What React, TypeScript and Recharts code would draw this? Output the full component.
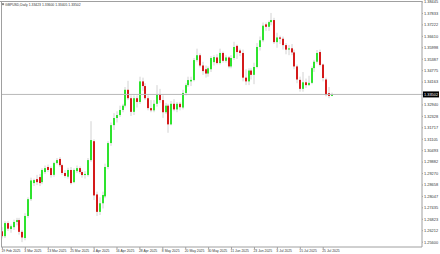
import React from 'react';
import { ComposedChart, Bar, XAxis, YAxis, ReferenceLine } from 'recharts';

// GBPUSD daily candles, 19 Feb 2025 .. 30 Jul 2025 (one entry per trading day)
const opens = [
  1.2618, 1.2592, 1.2662, 1.2630, 1.2640, 1.2668, 1.2678, 1.2615, 1.2582, 1.2700,
  1.2790, 1.2876, 1.2897, 1.2908, 1.2881, 1.2935, 1.2962, 1.2956, 1.2920, 1.2983,
  1.3005, 1.2972, 1.2930, 1.2910, 1.2946, 1.2881, 1.2940, 1.2956, 1.2935, 1.2919,
  1.2919, 1.2999, 1.3100, 1.2815, 1.2722, 1.2768, 1.2805, 1.2962, 1.3090, 1.3186,
  1.3224, 1.3240, 1.3267, 1.3290, 1.3375, 1.3330, 1.3257, 1.3330, 1.3310, 1.3420,
  1.3395, 1.3330, 1.3277, 1.3265, 1.3300, 1.3350, 1.3320, 1.3255, 1.3290, 1.3190,
  1.3300, 1.3270, 1.3300, 1.3280, 1.3358, 1.3400, 1.3420, 1.3427, 1.3534, 1.3560,
  1.3505, 1.3485, 1.3462, 1.3485, 1.3523, 1.3548, 1.3518, 1.3572, 1.3530, 1.3548,
  1.3500, 1.3545, 1.3610, 1.3585, 1.3572, 1.3440, 1.3420, 1.3478, 1.3455, 1.3497,
  1.3604, 1.3640, 1.3725, 1.3712, 1.3737, 1.3748, 1.3630, 1.3655, 1.3648, 1.3614,
  1.3590, 1.3597, 1.3575, 1.3500, 1.3428, 1.3380, 1.3415, 1.3400, 1.3412, 1.3491,
  1.3525, 1.3577, 1.3510, 1.3430, 1.3357, 1.33423,
];
const highs = [
  1.2640, 1.2672, 1.2672, 1.2655, 1.2680, 1.2690, 1.2690, 1.2625, 1.2715, 1.2800,
  1.2905, 1.2900, 1.2920, 1.2925, 1.2955, 1.2970, 1.2975, 1.2965, 1.2990, 1.3010,
  1.3015, 1.2980, 1.2945, 1.2958, 1.2962, 1.2955, 1.2970, 1.2965, 1.2945, 1.2940,
  1.3010, 1.3207, 1.3110, 1.2830, 1.2800, 1.2830, 1.2980, 1.3100, 1.3200, 1.3250,
  1.3260, 1.3290, 1.3300, 1.3390, 1.3423, 1.3345, 1.3345, 1.3345, 1.3445, 1.3440,
  1.3410, 1.3345, 1.3320, 1.3320, 1.3400, 1.3380, 1.3345, 1.3305, 1.3300, 1.3315,
  1.3325, 1.3310, 1.3310, 1.3375, 1.3410, 1.3445, 1.3445, 1.3545, 1.3595, 1.3570,
  1.3525, 1.3505, 1.3500, 1.3555, 1.3560, 1.3565, 1.3595, 1.3580, 1.3560, 1.3555,
  1.3560, 1.3632, 1.3617, 1.3595, 1.3590, 1.3485, 1.3490, 1.3490, 1.3520, 1.3625,
  1.3660, 1.3735, 1.3735, 1.3745, 1.3786, 1.3760, 1.3680, 1.3665, 1.3660, 1.3625,
  1.3615, 1.3620, 1.3590, 1.3510, 1.3445, 1.3470, 1.3435, 1.3450, 1.3500, 1.3535,
  1.3588, 1.3590, 1.3515, 1.3440, 1.3390, 1.33600,
];
const lows = [
  1.2580, 1.2582, 1.2620, 1.2610, 1.2625, 1.2650, 1.2600, 1.2560, 1.2570, 1.2690,
  1.2780, 1.2860, 1.2865, 1.2860, 1.2870, 1.2925, 1.2935, 1.2905, 1.2910, 1.2975,
  1.2962, 1.2920, 1.2905, 1.2900, 1.2868, 1.2875, 1.2930, 1.2925, 1.2905, 1.2900,
  1.2910, 1.2990, 1.2785, 1.2700, 1.2705, 1.2740, 1.2795, 1.2950, 1.3075, 1.3160,
  1.3200, 1.3230, 1.3255, 1.3280, 1.3320, 1.3235, 1.3240, 1.3280, 1.3300, 1.3370,
  1.3320, 1.3265, 1.3255, 1.3255, 1.3285, 1.3305, 1.3225, 1.3245, 1.3145, 1.3185,
  1.3260, 1.3255, 1.3265, 1.3270, 1.3345, 1.3390, 1.3395, 1.3420, 1.3525, 1.3495,
  1.3455, 1.3440, 1.3445, 1.3470, 1.3505, 1.3510, 1.3510, 1.3520, 1.3520, 1.3490,
  1.3490, 1.3535, 1.3540, 1.3555, 1.3420, 1.3400, 1.3400, 1.3430, 1.3405, 1.3490,
  1.3585, 1.3630, 1.3690, 1.3690, 1.3720, 1.3620, 1.3600, 1.3620, 1.3590, 1.3565,
  1.3560, 1.3560, 1.3485, 1.3410, 1.3365, 1.3365, 1.3385, 1.3395, 1.3405, 1.3470,
  1.3515, 1.3500, 1.3420, 1.3340, 1.3330, 1.33405,
];
const closes = [
  1.2592, 1.2662, 1.2632, 1.2645, 1.2668, 1.2678, 1.2615, 1.2585, 1.2700, 1.2790,
  1.2890, 1.2892, 1.2881, 1.2876, 1.2946, 1.2956, 1.2946, 1.2919, 1.2983, 1.2999,
  1.2972, 1.2930, 1.2914, 1.2946, 1.2876, 1.2946, 1.2956, 1.2935, 1.2919, 1.2925,
  1.2999, 1.3106, 1.2810, 1.2722, 1.2768, 1.2812, 1.2962, 1.3090, 1.3186, 1.3224,
  1.3240, 1.3267, 1.3290, 1.3375, 1.3330, 1.3257, 1.3330, 1.3310, 1.3420, 1.3395,
  1.3330, 1.3277, 1.3265, 1.3300, 1.3350, 1.3320, 1.3255, 1.3290, 1.3190, 1.3300,
  1.3270, 1.3300, 1.3282, 1.3358, 1.3400, 1.3427, 1.3428, 1.3534, 1.3560, 1.3505,
  1.3475, 1.3462, 1.3490, 1.3545, 1.3550, 1.3518, 1.3572, 1.3530, 1.3548, 1.3500,
  1.3545, 1.3604, 1.3577, 1.3572, 1.3440, 1.3420, 1.3478, 1.3455, 1.3497, 1.3604,
  1.3640, 1.3718, 1.3712, 1.3737, 1.3748, 1.3630, 1.3655, 1.3648, 1.3614, 1.3590,
  1.3597, 1.3575, 1.3500, 1.3430, 1.3380, 1.3415, 1.3400, 1.3412, 1.3491, 1.3525,
  1.3572, 1.3508, 1.3438, 1.3347, 1.3342, 1.33502,
];

// right-hand price scale labels (the one under the price tag is hidden)
const priceTicks = [
  1.38445, 1.37833, 1.37222, 1.3661, 1.35998, 1.35387, 1.34775, 1.34163,
  1.3294, 1.32328, 1.31717, 1.31105, 1.30493, 1.29882, 1.2927, 1.28658,
  1.28047, 1.27435, 1.26823, 1.26212, 1.256,
];
// bars that carry a date label
const dateTicks = [0, 8, 16, 24, 32, 40, 48, 56, 64, 72, 80, 88, 96, 104, 112];

const MONTHS = ['Jan', 'Feb', 'Mar', 'Apr', 'May', 'Jun', 'Jul', 'Aug', 'Sep', 'Oct', 'Nov', 'Dec'];
const dates: string[] = [];
for (let t = Date.UTC(2025, 1, 19); dates.length < closes.length; t += 86400000) {
  const d = new Date(t);
  const wd = d.getUTCDay();
  if (wd === 0 || wd === 6) continue;
  dates.push(`${d.getUTCDate()} ${MONTHS[d.getUTCMonth()]} ${d.getUTCFullYear()}`);
}

const SLOTS = 147; // empty slots on the right = chart shift
const lastClose = closes[closes.length - 1];

const rows = Array.from({ length: SLOTS }, (_, i) =>
  i < closes.length
    ? { idx: i, range: [lows[i], highs[i]], open: opens[i], high: highs[i], low: lows[i], close: closes[i] }
    : { idx: i }
);

const BULL = '#2ee32e';
const BEAR = '#d41a1a';
const WICK = '#d2d2d2';
const FRAME = '#a0a0a0';
const TEXT = '#333333';
const FONT = '"Liberation Sans", Arial, sans-serif';

const Candle = (props: any) => {
  const { x, y, width, height, payload } = props;
  if (!payload || payload.open == null) return <g />;
  const { open, close, high, low } = payload;
  const top = Math.min(y, y + height);
  const h = Math.abs(height);
  const span = high - low;
  const py = (v: number) => (span > 0 ? top + ((high - v) / span) * h : top);
  const cx = Math.round(x + width / 2);
  const bTop = py(Math.max(open, close));
  const bBot = py(Math.min(open, close));
  return (
    <g>
      <line x1={cx} x2={cx} y1={top} y2={top + h} stroke={WICK} strokeWidth={1} />
      <rect x={cx - 1} y={bTop} width={2} height={Math.max(bBot - bTop, 1)} fill={close >= open ? BULL : BEAR} />
    </g>
  );
};

const DateTick = (props: any) => {
  const { x, payload } = props;
  return (
    <text x={x - 1} y={252.3} fontSize={3.4} fill={TEXT} fontFamily={FONT} textAnchor="start">
      {dates[payload.value]}
    </text>
  );
};

const PriceTick = (props: any) => {
  const { y, payload } = props;
  const label = Number(payload.value).toFixed(5);
  if (payload.value === lastClose) {
    return (
      <g>
        <rect x={423} y={y - 3} width={16} height={6} fill="#000000" />
        <text x={424} y={y + 1.4} fontSize={3.9} fill="#ffffff" fontFamily={FONT}>{label}</text>
      </g>
    );
  }
  return (
    <text x={424} y={y + 1.4} fontSize={3.9} fill={TEXT} fontFamily={FONT}>{label}</text>
  );
};

export default function App() {
  return (
    <div style={{ position: 'fixed', left: 0, top: 0, width: 440, height: 254, background: '#ffffff' }}>
      <ComposedChart width={440} height={254} data={rows} margin={{ top: 1, right: 0, bottom: 0, left: 1 }}>
        <XAxis
          dataKey="idx"
          type="category"
          ticks={dateTicks}
          interval={0}
          height={7}
          axisLine={{ stroke: FRAME }}
          tickLine={{ stroke: FRAME }}
          tickSize={2}
          tick={<DateTick />}
        />
        <YAxis
          orientation="right"
          type="number"
          domain={[1.2534, 1.385]}
          allowDataOverflow
          ticks={[...priceTicks, lastClose]}
          interval={0}
          width={18}
          axisLine={{ stroke: FRAME }}
          tickLine={{ stroke: FRAME }}
          tickSize={1}
          tick={<PriceTick />}
        />
        <ReferenceLine y={lastClose} stroke="#b8b8b8" strokeWidth={1} />
        <Bar dataKey="range" shape={<Candle />} isAnimationActive={false} />
      </ComposedChart>
      <svg width={440} height={254} style={{ position: 'absolute', left: 0, top: 0, pointerEvents: 'none' }}>
        <line x1={0} x2={422} y1={1.5} y2={1.5} stroke={FRAME} />
        <line x1={1.5} x2={1.5} y1={1} y2={247} stroke={FRAME} />
        <polygon points="1.8,3.6 4.2,3.6 3,5.6" fill="#333333" />
        <text x={5} y={6.2} fontSize={3.4} fill={TEXT} fontFamily={FONT}>
          GBPUSD,Daily  1.33423 1.33600 1.33405 1.33502
        </text>
      </svg>
    </div>
  );
}
